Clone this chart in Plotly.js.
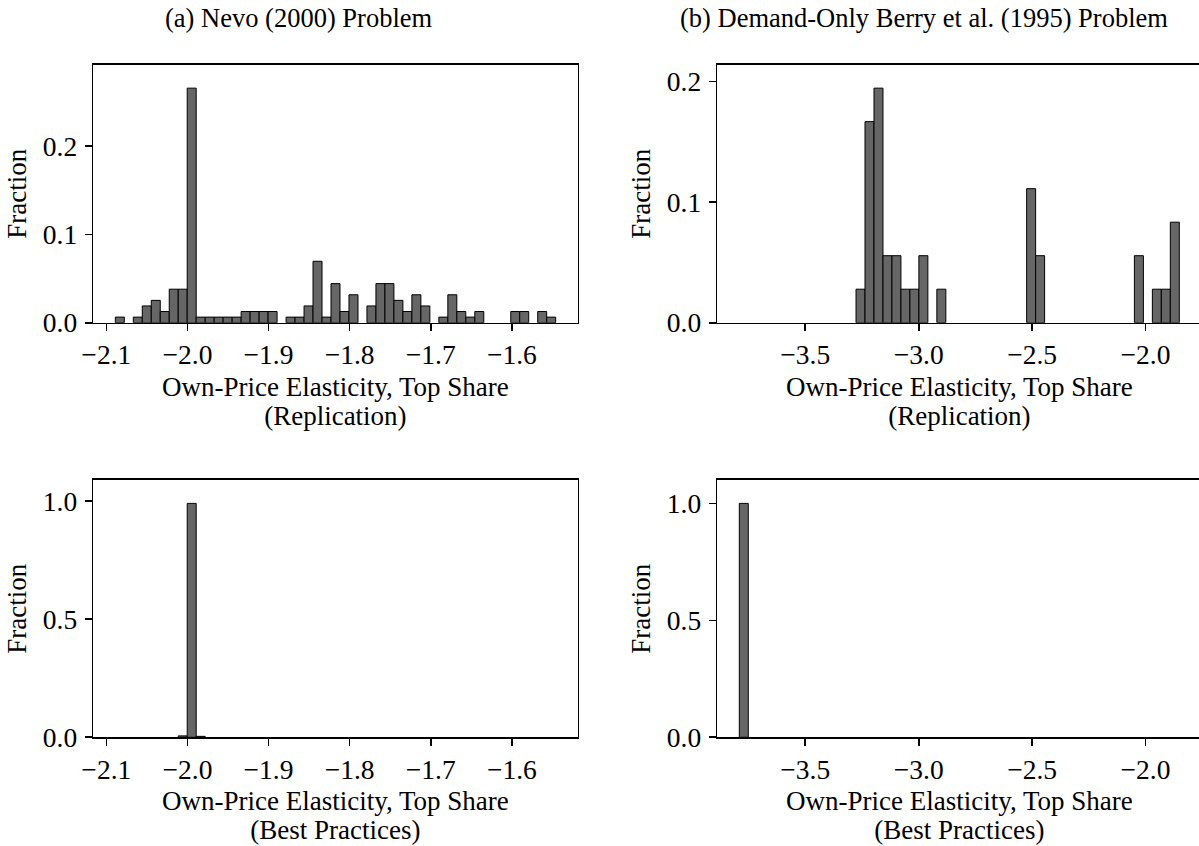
<!DOCTYPE html>
<html>
<head>
<meta charset="utf-8">
<script src="https://cdn.plot.ly/plotly-3.0.1.min.js"></script>
<style>
html,body{margin:0;padding:0;overflow:hidden;background:#ffffff;}
#chart{width:1205px;height:846px;}
</style>
</head>
<body>
<div id="chart"></div>
<script>
// ---------- data ----------
// (a) Nevo (2000): 49 equal-width bins shared by both rows
const nevoBinStart = -2.0889;
const nevoBinWidth = 0.01108;
const nevoReplicationCounts = [1,0,1,3,4,2,6,6,42,1,1,1,1,1,2,2,2,2,0,1,1,3,11,1,7,2,5,0,3,7,7,4,2,5,3,0,1,5,2,1,2,0,0,0,2,2,0,2,1];
const nevoReplicationTotal = 158;
const nevoBestFractions = [0,0,0,0,0,0,0,0.006,0.99,0.004,0,0,0,0,0,0,0,0,0,0,0,0,0,0,0,0,0,0,0,0,0,0,0,0,0,0,0,0,0,0,0,0,0,0,0,0,0,0,0];

// (b) Demand-only BLP (1995): 49 equal-width bins shared by both rows
const berryBinStart = -3.791;
const berryBinWidth = 0.03959;
const berryReplicationCounts = [0,0,0,0,0,0,0,0,0,0,0,0,0,1,6,7,2,2,1,1,2,0,1,0,0,0,0,0,0,0,0,0,4,2,0,0,0,0,0,0,0,0,0,0,2,0,1,1,3];
const berryReplicationTotal = 36;
const berryBestFractions = [1.0,0,0,0,0,0,0,0,0,0,0,0,0,0,0,0,0,0,0,0,0,0,0,0,0,0,0,0,0,0,0,0,0,0,0,0,0,0,0,0,0,0,0,0,0,0,0,0,0];

// tick labels
const nevoXTickVals = [-2.1,-2.0,-1.9,-1.8,-1.7,-1.6];
const nevoXTickText = ["\u22122.1","\u22122.0","\u22121.9","\u22121.8","\u22121.7","\u22121.6"];
const berryXTickVals = [-3.5,-3.0,-2.5,-2.0];
const berryXTickText = ["\u22123.5","\u22123.0","\u22122.5","\u22122.0"];
const topYTickVals = [0,0.1,0.2];
const topYTickText = ["0.0","0.1","0.2"];
const bottomYTickVals = [0,0.5,1.0];
const bottomYTickText = ["0.0","0.5","1.0"];

const panelTitles = ["(a) Nevo (2000) Problem", "(b) Demand-Only Berry et al. (1995) Problem"];
const xTitleMain = "Own-Price Elasticity, Top Share";
const xTitleTop = "(Replication)";
const xTitleBottom = "(Best Practices)";
const yTitle = "Fraction";

// ---------- build ----------
const W = 1205, H = 846;
const px = v => v / W;
const py = v => 1 - v / H;

const FONT = "Liberation Serif, Times New Roman, serif";
const barStyle = {color:"#666666", line:{color:"#000000", width:1}};

function histTrace(values, start, width, xa, ya){
  // empty bins are not drawn (no outline on the baseline)
  return {type:"bar", y: values.map(v => v === 0 ? null : v), x0: start + width/2, dx: width, width: width,
          xaxis: xa, yaxis: ya, marker: barStyle, hoverinfo:"skip", showlegend:false};
}

const data = [
  histTrace(nevoReplicationCounts.map(c => c / nevoReplicationTotal), nevoBinStart, nevoBinWidth, "x", "y"),
  histTrace(berryReplicationCounts.map(c => c / berryReplicationTotal), berryBinStart, berryBinWidth, "x2", "y2"),
  histTrace(nevoBestFractions, nevoBinStart, nevoBinWidth, "x3", "y3"),
  histTrace(berryBestFractions, berryBinStart, berryBinWidth, "x4", "y4")
];

function axis(extra){
  return Object.assign({
    showline:true, linecolor:"#000000", linewidth:1.6, mirror:true,
    ticks:"outside", ticklen:7, tickwidth:1.6, tickcolor:"#000000",
    showgrid:false, zeroline:false, fixedrange:true,
    tickfont:{family:FONT, size:27.5, color:"#000000"}, tickmode:"array"
  }, extra);
}

const nevoXRange = [nevoBinStart - 0.05*49*nevoBinWidth, nevoBinStart + 1.05*49*nevoBinWidth];
const berryXRange = [berryBinStart - 0.05*49*berryBinWidth, berryBinStart + 1.05*49*berryBinWidth];

const leftDom = [px(93.3), px(577.7)];
const rightDom = [px(717.3), px(1201.3)];
const topDom = [py(322.7), py(64.7)];
const botDom = [py(737.3), py(480)];

const layout = {
  width: W, height: H,
  margin:{l:0,r:0,t:0,b:0,pad:0},
  paper_bgcolor:"#ffffff", plot_bgcolor:"#ffffff",
  bargap:0, showlegend:false,
  font:{family:FONT, color:"#000000"},
  xaxis: axis({domain:leftDom, anchor:"y", range:nevoXRange, tickvals:nevoXTickVals, ticktext:nevoXTickText}),
  yaxis: axis({domain:topDom, anchor:"x", range:[0, 1.1*42/158], tickvals:topYTickVals, ticktext:topYTickText, ticklabelstandoff:2}),
  xaxis2: axis({domain:rightDom, anchor:"y2", range:berryXRange, tickvals:berryXTickVals, ticktext:berryXTickText}),
  yaxis2: axis({domain:topDom, anchor:"x2", range:[0, 1.1*7/36], tickvals:topYTickVals, ticktext:topYTickText, ticklabelstandoff:2}),
  xaxis3: axis({domain:leftDom, anchor:"y3", range:nevoXRange, tickvals:nevoXTickVals, ticktext:nevoXTickText}),
  yaxis3: axis({domain:botDom, anchor:"x3", range:[0, 1.1*0.99], tickvals:bottomYTickVals, ticktext:bottomYTickText, ticklabelstandoff:2}),
  xaxis4: axis({domain:rightDom, anchor:"y4", range:berryXRange, tickvals:berryXTickVals, ticktext:berryXTickText}),
  yaxis4: axis({domain:botDom, anchor:"x4", range:[0, 1.1], tickvals:bottomYTickVals, ticktext:bottomYTickText, ticklabelstandoff:2}),
  annotations: []
};

function note(text, x, y, size, angle){
  layout.annotations.push({text:text, xref:"paper", yref:"paper", x:px(x), y:py(y),
    xanchor:"center", yanchor:"middle", showarrow:false, textangle: angle || 0,
    font:{family:FONT, size:size, color:"#000000"}});
}
note(panelTitles[0], 299, 18, 26.5);
note(panelTitles[1], 923.5, 18, 26.5);
// two-line x-axis titles (line spacing tightened after drawing)
note(xTitleMain + "<br>" + xTitleTop, 335.5, 404.5, 27);
note(xTitleMain + "<br>" + xTitleTop, 959.3, 404.5, 27);
note(xTitleMain + "<br>" + xTitleBottom, 335.5, 818.5, 27);
note(xTitleMain + "<br>" + xTitleBottom, 959.3, 818.5, 27);
note(yTitle, 17, 193.7, 27, -90);
note(yTitle, 641, 193.7, 27, -90);
note(yTitle, 17, 608.7, 27, -90);
note(yTitle, 641, 608.7, 27, -90);

Plotly.newPlot("chart", data, layout, {staticPlot:true, displayModeBar:false}).then(function(gd){
  gd.querySelectorAll(".annotation-text").forEach(function(t){
    const lines = t.querySelectorAll("tspan.line");
    if (lines.length > 1) lines[1].setAttribute("dy", "1.07em");
  });
});
</script>
</body>
</html>
